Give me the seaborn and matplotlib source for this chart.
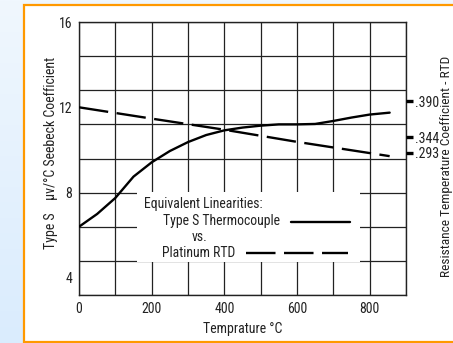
import numpy as np
import pandas as pd
import seaborn as sns
import matplotlib
matplotlib.use("Agg")
import matplotlib.pyplot as plt
from matplotlib.lines import Line2D
from matplotlib.patches import Rectangle
from matplotlib import font_manager as fm
from matplotlib.colors import LinearSegmentedColormap

# ---- data ----
temp_c = [0, 50, 100, 150, 200, 250, 300, 350, 400, 450, 500, 550, 600, 650, 700, 750, 800, 855]
type_s_seebeck = [6.4, 7.0, 7.75, 8.75, 9.42, 9.95, 10.37, 10.7, 10.92, 11.05, 11.14, 11.2, 11.2, 11.22, 11.36, 11.52, 11.66, 11.75]
rtd_temp = [0, 200, 400, 600, 855]
rtd_curve = [12.0, 11.47, 10.95, 10.38, 9.71]
left_ticks = [4, 8, 12, 16]
x_ticks = [0, 200, 400, 600, 800]
x_grid = [0, 100, 200, 300, 400, 500, 600, 700, 800, 900]
y_grid = [3.2, 4.8, 6.4, 8.0, 9.6, 11.2, 12.8, 14.4, 16.0]
right_tick_pos = [12.28, 10.59, 9.88]
right_tick_labels = [".390", ".344", ".293"]

df_s = pd.DataFrame({"T": temp_c, "S": type_s_seebeck})
df_r = pd.DataFrame({"T": rtd_temp, "R": rtd_curve})

sns.set_theme(style="white")

# pick a narrow font if available
fam = ['Liberation Sans', 'DejaVu Sans']
stretch = 'normal'
for cand in ['Liberation Sans Narrow', 'Roboto Condensed', 'Open Sans Condensed', 'Noto Sans Condensed']:
    try:
        fm.findfont(fm.FontProperties(family=cand), fallback_to_default=False)
        fam = [cand, 'DejaVu Sans']
        break
    except Exception:
        pass
else:
    fam = ['DejaVu Sans']
    stretch = 'condensed'
plt.rcParams['font.family'] = fam
plt.rcParams['font.stretch'] = stretch

FS_T = 10     # tick labels
FS_L = 10     # axis labels
FS_R = 9.6    # right axis label
FS_G = 9.9    # legend text
TXT = '#222222'

fig = plt.figure(figsize=(4.53, 3.43), dpi=100)
fig.patch.set_facecolor('#E6F2FD')

bg = fig.add_axes([0, 0, 1, 1], zorder=-2)
grad = np.linspace(0, 1, 256).reshape(-1, 1)
cm = LinearSegmentedColormap.from_list('bg', ['#F0F7FE', '#DAECFD'])
bg.imshow(grad, aspect='auto', cmap=cm, extent=[0, 1, 0, 1])
bg.set_axis_off()

fig.patches.append(Rectangle((24 / 453, 1 / 343), 1.0, 337.5 / 343, transform=fig.transFigure,
                             facecolor='white', edgecolor='#FF9900', linewidth=1.6, zorder=-1))

ax = fig.add_axes([79 / 453, 1 - 295 / 343, 327 / 453, 273 / 343])
ax.set_facecolor('white')
ax.set_xlim(0, 900)
ax.set_ylim(3.2, 16)
ax.set_xticks(x_ticks)
ax.set_yticks(left_ticks)
ax.grid(False)
for gx in x_grid:
    ax.axvline(gx, color=TXT, linewidth=0.9, zorder=1)
for gy in y_grid:
    ax.axhline(gy, color=TXT, linewidth=0.9, zorder=1)
ax.tick_params(which='both', length=0, labelsize=FS_T, colors=TXT, pad=5)
for sp in ax.spines.values():
    sp.set_color(TXT)
    sp.set_linewidth(1.0)

sns.lineplot(data=df_s, x="T", y="S", ax=ax, color='black', linewidth=1.7, zorder=3)
sns.lineplot(data=df_r, x="T", y="R", ax=ax, color='black', linewidth=1.7, zorder=3)
ax.lines[-1].set_dashes((12.5, 3.6))

ax.set_xlabel("Temprature °C", fontsize=FS_L, color=TXT, labelpad=4)
ax.set_ylabel("Type S    µv/°C Seebeck Coefficient", fontsize=FS_L, color=TXT)
ax.yaxis.set_label_coords(-0.064, 0.52)

ax2 = ax.twinx()
ax2.set_ylim(ax.get_ylim())
ax2.set_yticks(right_tick_pos)
ax2.set_yticklabels(right_tick_labels)
ax2.tick_params(axis='y', length=5, width=2.4, color='black', labelsize=FS_T,
                labelcolor=TXT, pad=1.5, direction='out')
ax2.grid(False)
for sp in ax2.spines.values():
    sp.set_visible(False)
ax2.set_ylabel("Resistance Temperature Coefficient - RTD", fontsize=FS_R, color=TXT)
ax2.yaxis.set_label_coords(1.104, 0.47)

# legend panel
ax.add_patch(Rectangle((0.177, 0.121), 0.682, 0.256, transform=ax.transAxes,
                       facecolor='white', edgecolor='none', zorder=2.5))
ax.text(0.199, 0.333, "Equivalent Linearities:", transform=ax.transAxes, ha='left', va='center',
        fontsize=FS_G, color=TXT, zorder=4)
ax.text(0.615, 0.271, "Type S Thermocouple", transform=ax.transAxes, ha='right', va='center',
        fontsize=FS_G, color=TXT, zorder=4)
ax.text(0.37, 0.212, "vs.", transform=ax.transAxes, ha='center', va='center',
        fontsize=FS_G, color=TXT, zorder=4)
ax.text(0.477, 0.154, "Platinum RTD", transform=ax.transAxes, ha='right', va='center',
        fontsize=FS_G, color=TXT, zorder=4)
ax.add_line(Line2D([0.648, 0.829], [0.267, 0.267], transform=ax.transAxes, color='black',
                   linewidth=1.7, zorder=4))
ax.add_line(Line2D([0.511, 0.823], [0.154, 0.154], transform=ax.transAxes, color='black',
                   linewidth=1.7, zorder=4, dashes=(12.5, 3.6)))

fig.savefig("out.png", dpi=100, facecolor=fig.get_facecolor())
